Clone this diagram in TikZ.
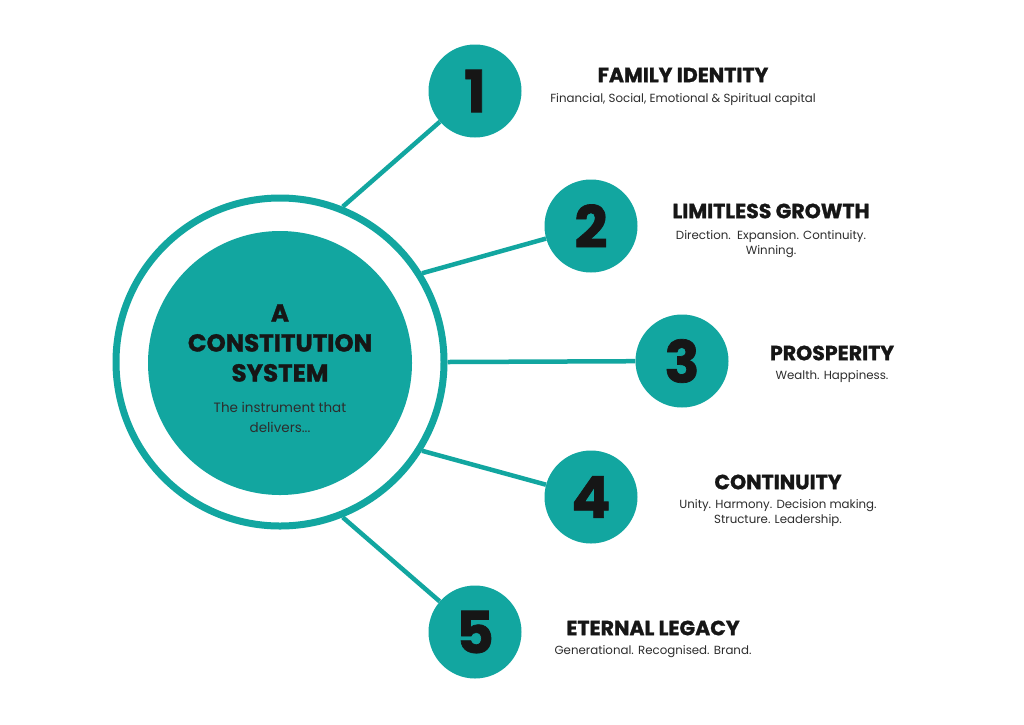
\documentclass[tikz,border=0pt]{standalone}
\usepackage{fontspec}
\setmainfont{Poppins}
\newfontfamily\heavy{Poppins}[FakeBold=1.2]
\definecolor{teal1}{RGB}{18,166,160}
\definecolor{ink}{RGB}{22,22,22}
\definecolor{body}{RGB}{45,45,45}
\tikzset{
  numc/.style={circle, fill=teal1, minimum size=93pt, inner sep=0pt, text=ink, font=\fontsize{58}{58}\selectfont\heavy\bfseries},
  conn/.style={draw=teal1, line width=4.5pt},
  head/.style={text=ink, font=\fontsize{20.5}{24}\selectfont\heavy\bfseries, inner sep=0pt},
  sub/.style={text=body, font=\fontsize{11.8}{15}\selectfont, align=center, inner sep=0pt},
}
\begin{document}
\begin{tikzpicture}[x=1pt,y=-1pt]
\useasboundingbox[fill=white] (0,0) rectangle (1024,724);
% ring and core
\node[circle, draw=teal1, line width=7pt, minimum size=328pt, inner sep=0pt] (ring) at (280,362) {};
\node[circle, fill=teal1, minimum size=264pt, inner sep=0pt] (core) at (280,363) {};
% number circles
\node[numc] (n1) at (475,91) {1};
\node[numc] (n2) at (591,226) {2};
\node[numc] (n3) at (682,361) {3};
\node[numc] (n4) at (591,497) {4};
\node[numc] (n5) at (475,632) {5};
% connectors
\draw[conn] (ring.68.7) -- (n1);
\draw[conn] (ring.32) -- (n2);
\draw[conn] (ring.0) -- (n3);
\draw[conn] (ring.-32) -- (n4);
\draw[conn] (ring.-68.7) -- (n5);
% centre text
\node[text=ink, font=\fontsize{24.5}{30}\selectfont\heavy\bfseries, align=center, inner sep=0pt] (ctitle) at (280,343) {A\\CONSTITUTION\\SYSTEM};
\node[sub, font=\fontsize{13.5}{20}\selectfont] (csub) at (280,417) {The instrument that\\delivers...};
% labels
\node[head] (h1) at (683,75) {FAMILY IDENTITY};
\node[sub] (s1) at (683,100) {Financial, Social, Emotional \& Spiritual capital};
\node[head] (h2) at (771,211) {LIMITLESS GROWTH};
\node[sub] (s2) at (771,244) {Direction.\ \ Expansion. Continuity.\\Winning.};
\node[head] (h3) at (832,353) {PROSPERITY};
\node[sub] (s3) at (832,377) {Wealth. Happiness.};
\node[head] (h4) at (778,482) {CONTINUITY};
\node[sub] (s4) at (778,513) {Unity. Harmony. Decision making.\\Structure. Leadership.};
\node[head] (h5) at (653,628) {ETERNAL LEGACY};
\node[sub] (s5) at (653,652) {Generational. Recognised. Brand.};
\end{tikzpicture}
\end{document}
